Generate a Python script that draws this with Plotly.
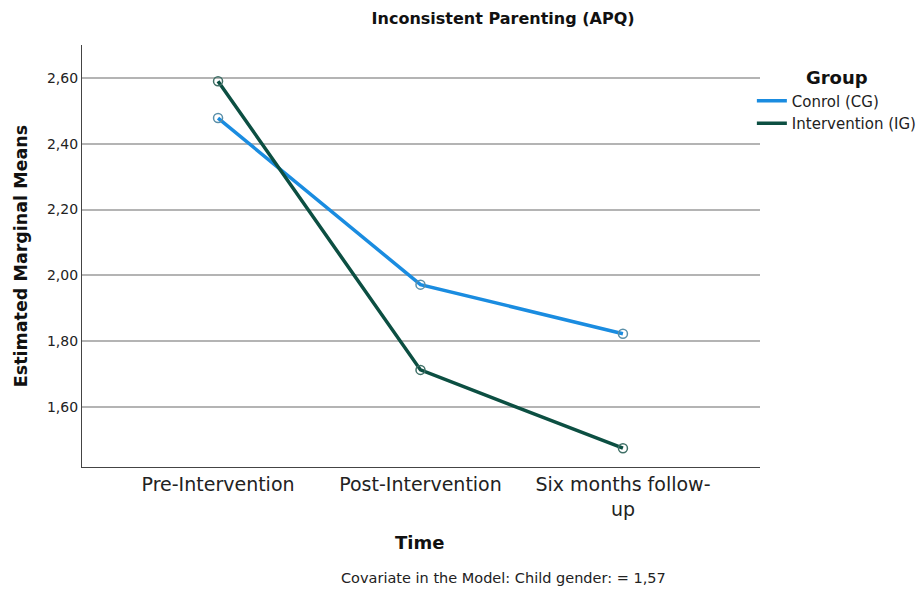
import plotly.graph_objects as go

# Estimated marginal means of inconsistent parenting (APQ) by group over time
time_points = ["Pre-Intervention", "Post-Intervention", "Six months follow-<br>up"]
control_means = [2.478, 1.972, 1.823]
intervention_means = [2.590, 1.713, 1.475]
y_ticks = [1.60, 1.80, 2.00, 2.20, 2.40, 2.60]

groups = [
    ("Conrol (CG)", control_means, "#1a8ce0", "#5a8fa8"),
    ("Intervention (IG)", intervention_means, "#0c4f42", "#3f6f66"),
]

FONT = "DejaVu Sans"
x_idx = list(range(len(time_points)))

fig = go.Figure()
for name, means, line_col, mark_col in groups:
    # line (shown in the legend)
    fig.add_trace(go.Scatter(
        x=x_idx, y=means, mode="lines", name=name,
        line=dict(color=line_col, width=3.5),
    ))
for name, means, line_col, mark_col in groups:
    # open circle markers on top of each mean
    fig.add_trace(go.Scatter(
        x=x_idx, y=means, mode="markers", showlegend=False, hoverinfo="skip",
        marker=dict(symbol="circle-open", size=9, color=mark_col, line=dict(width=1.5)),
    ))

fig.update_layout(
    width=918, height=589,
    margin=dict(l=82, r=158, t=45, b=122, autoexpand=False),
    plot_bgcolor="white", paper_bgcolor="white",
    separators=",.",
    font=dict(family=FONT, color="#222"),
    title=dict(text="<b>Inconsistent Parenting (APQ)</b>", x=0.548, xanchor="center",
               y=0.968, yanchor="middle", font=dict(size=16, color="#111")),
    xaxis=dict(
        range=[-0.672, 2.677], tickmode="array", tickvals=x_idx, ticktext=time_points,
        showgrid=False, showline=True, linecolor="#444", linewidth=1.2,
        ticks="", tickfont=dict(size=19, color="#222"), zeroline=False,
    ),
    yaxis=dict(
        range=[1.418, 2.70], tickvals=y_ticks, tickformat=".2f",
        showgrid=True, gridcolor="#b4b4b4", gridwidth=1.5,
        showline=True, linecolor="#444", linewidth=1.2,
        ticks="", tickfont=dict(size=14, color="#222"), zeroline=False,
        title=dict(text="<b>Estimated Marginal Means</b>",
                   font=dict(size=17.5, color="#111"), standoff=14),
    ),
    legend=dict(
        title=dict(text="<b>Group</b>", font=dict(size=18, color="#111"),
                   side="top center"),
        x=0.988, xanchor="left", y=0.962, yanchor="top",
        font=dict(size=15, color="#222"), bgcolor="rgba(0,0,0,0)",
        itemwidth=30, tracegroupgap=0,
    ),
    annotations=[
        dict(text="<b>Time</b>", xref="paper", yref="paper", x=0.4985, y=-0.18,
             xanchor="center", yanchor="middle", showarrow=False,
             font=dict(size=18, color="#111")),
        dict(text="Covariate in the Model: Child gender: = 1,57", xref="paper", yref="paper",
             x=0.621, y=-0.262, xanchor="center", yanchor="middle", showarrow=False,
             font=dict(size=14.5, color="#222")),
    ],
)

fig.write_html("out.html")
